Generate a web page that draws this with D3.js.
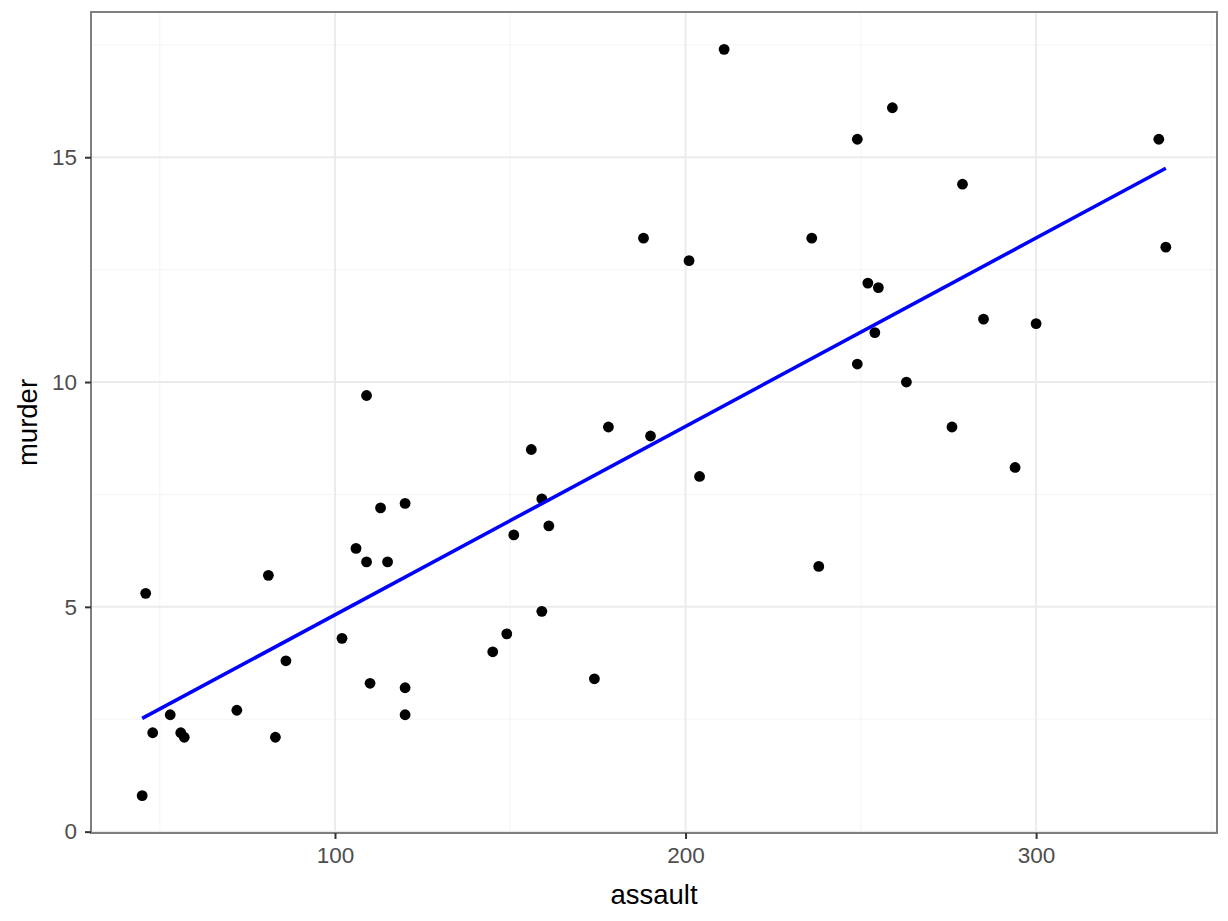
<!DOCTYPE html>
<html><head><meta charset="utf-8">
<script src="https://cdn.jsdelivr.net/npm/d3@7"></script>
<style>html,body{margin:0;padding:0;background:#fff;}svg{display:block;font-family:"Liberation Sans",Arial,Helvetica,sans-serif;}</style>
</head><body>
<script>
const states = ["Alabama","Alaska","Arizona","Arkansas","California","Colorado","Connecticut","Delaware","Florida","Georgia","Hawaii","Idaho","Illinois","Indiana","Iowa","Kansas","Kentucky","Louisiana","Maine","Maryland","Massachusetts","Michigan","Minnesota","Mississippi","Missouri","Montana","Nebraska","Nevada","New Hampshire","New Jersey","New Mexico","New York","North Carolina","North Dakota","Ohio","Oklahoma","Oregon","Pennsylvania","Rhode Island","South Carolina","South Dakota","Tennessee","Texas","Utah","Vermont","Virginia","Washington","West Virginia","Wisconsin","Wyoming"];
const assault = [236,263,294,190,276,204,110,238,335,211,46,120,249,113,56,115,109,249,83,300,149,255,72,259,178,109,102,252,57,159,285,254,337,45,120,151,159,106,174,279,86,188,201,120,48,156,145,81,53,161];
const murder = [13.2,10.0,8.1,8.8,9.0,7.9,3.3,5.9,15.4,17.4,5.3,2.6,10.4,7.2,2.2,6.0,9.7,15.4,2.1,11.3,4.4,12.1,2.7,16.1,9.0,6.0,4.3,12.2,2.1,7.4,11.4,11.1,13.0,0.8,7.3,6.6,4.9,6.3,3.4,14.4,3.8,13.2,12.7,3.2,2.2,8.5,4.0,5.7,2.6,6.8];
const xTicks = [100,200,300];
const xMinor = [50,150,250,350];
const yTicks = [0,5,10,15];
const yMinor = [2.5,7.5,12.5,17.5];

const W = 1228, H = 921;
const L = 91, R = 1217, T = 12, B = 833;

const svg = d3.select("body").append("svg").attr("width", W).attr("height", H);

const xe = d3.extent(assault), ye = d3.extent(murder);
const xpad = (xe[1]-xe[0])*0.05, ypad = (ye[1]-ye[0])*0.05;
const x = d3.scaleLinear().domain([xe[0]-xpad, xe[1]+xpad]).range([L, R]);
const y = d3.scaleLinear().domain([ye[0]-ypad, ye[1]+ypad]).range([B, T]);

// linear regression
const n = assault.length;
const mx = d3.mean(assault), my = d3.mean(murder);
let sxy = 0, sxx = 0;
for (let i = 0; i < n; i++) { sxy += (assault[i]-mx)*(murder[i]-my); sxx += (assault[i]-mx)**2; }
const slope = sxy/sxx, icpt = my - slope*mx;

const g = svg.append("g");
g.append("rect").attr("x", L).attr("y", T).attr("width", R-L).attr("height", B-T).attr("fill", "#fff");

// minor grid
g.selectAll(".xm").data(xMinor.filter(v => x(v) > L && x(v) < R)).enter().append("line")
  .attr("x1", d => x(d)).attr("x2", d => x(d)).attr("y1", T).attr("y2", B)
  .attr("stroke", "#ebebeb").attr("stroke-width", 0.8).attr("opacity", 0.6);
g.selectAll(".ym").data(yMinor.filter(v => y(v) > T && y(v) < B)).enter().append("line")
  .attr("y1", d => y(d)).attr("y2", d => y(d)).attr("x1", L).attr("x2", R)
  .attr("stroke", "#ebebeb").attr("stroke-width", 0.8).attr("opacity", 0.6);
// major grid
g.selectAll(".xg").data(xTicks).enter().append("line")
  .attr("x1", d => x(d)).attr("x2", d => x(d)).attr("y1", T).attr("y2", B)
  .attr("stroke", "#ebebeb").attr("stroke-width", 2);
g.selectAll(".yg").data(yTicks).enter().append("line")
  .attr("y1", d => y(d)).attr("y2", d => y(d)).attr("x1", L).attr("x2", R)
  .attr("stroke", "#ebebeb").attr("stroke-width", 2);

// points
g.selectAll("circle").data(d3.range(n)).enter().append("circle")
  .attr("cx", i => x(assault[i])).attr("cy", i => y(murder[i])).attr("r", 5.4).attr("fill", "#000");

// regression line
g.append("line")
  .attr("x1", x(xe[0])).attr("y1", y(icpt + slope*xe[0]))
  .attr("x2", x(xe[1])).attr("y2", y(icpt + slope*xe[1]))
  .attr("stroke", "#0000ff").attr("stroke-width", 3.6);

// border
g.append("rect").attr("x", L).attr("y", T).attr("width", R-L).attr("height", B-T)
  .attr("fill", "none").attr("stroke", "#7f7f7f").attr("stroke-width", 2);

// axes
const xAxis = d3.axisBottom(x).tickValues(xTicks).tickSize(6).tickPadding(8).tickSizeOuter(0);
const yAxis = d3.axisLeft(y).tickValues(yTicks).tickSize(6).tickPadding(8).tickSizeOuter(0);
const gx = svg.append("g").attr("transform", `translate(0,${B})`).call(xAxis);
const gy = svg.append("g").attr("transform", `translate(${L},0)`).call(yAxis);
[gx, gy].forEach(a => {
  a.select(".domain").remove();
  a.selectAll(".tick line").attr("stroke", "#333").attr("stroke-width", 2);
  a.selectAll(".tick text").attr("fill", "#4d4d4d").attr("font-size", 22.5)
    .attr("font-family", "'Liberation Sans',Arial,sans-serif");
});

svg.append("text").attr("x", (L+R)/2).attr("y", 904).attr("text-anchor", "middle")
  .attr("font-size", 27.5).attr("fill", "#000").text("assault");
svg.append("text").attr("transform", `translate(37,${(T+B)/2}) rotate(-90)`).attr("text-anchor", "middle")
  .attr("font-size", 27.5).attr("fill", "#000").text("murder");
</script>
</body></html>
